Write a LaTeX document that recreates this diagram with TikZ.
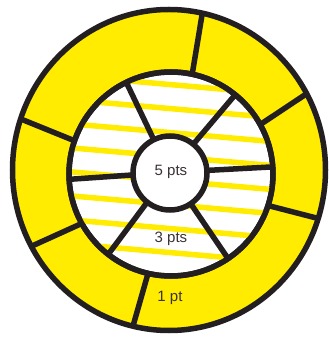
\documentclass[tikz,border=0pt]{standalone}
\usepackage{fontspec}
\setmainfont{Liberation Sans}
\usepackage{tikz}
\usetikzlibrary{shapes.geometric}
\definecolor{DartYellow}{HTML}{FFEC00}
\definecolor{DartInk}{HTML}{231F20}
\definecolor{DartText}{HTML}{3B3236}
\tikzset{
  ring/.style={draw=DartInk,line width=5.5pt,inner sep=0pt,outer sep=0pt},
  divider/.style={draw=DartInk,line width=5.5pt},
  stripe/.style={draw=DartYellow,line width=5.5pt},
  score/.style={font=\fontsize{15}{15}\selectfont,text=DartText,inner sep=0pt}
}
\begin{document}
\begin{tikzpicture}[x=1pt,y=1pt]
  \useasboundingbox (0,0) rectangle (329,340);
  \coordinate (oc) at (169,170);
  \coordinate (mc) at (171,166);
  \coordinate (ic) at (170,167);
  % outer yellow band
  \node[ring,ellipse,fill=DartYellow,minimum width=313pt,minimum height=321pt] (outer) at (oc) {};
  \node[ring,circle,fill=white,minimum size=204pt] (mid) at (mc) {};
  % striped middle band
  \begin{scope}
    \clip (mc) circle (100pt);
    \foreach \y in {50,74,...,310}
      \draw[stripe] (50,\y) -- (300,\y-22);
  \end{scope}
  \draw[divider] (mc) circle (102pt);
  \node[ring,circle,fill=white,minimum size=74pt] (inner) at (ic) {};
  % spokes of the middle band
  \foreach \a in {116,51,4,-56,232,183}
    \draw[divider] (inner.\a) -- (mid.\a);
  % dividers of the outer band
  \foreach \a in {78,29,-18.5,257,209.5,161}
    \draw[divider] (mid.\a) -- (outer.\a);
  \node[score] (five) at (171,168) {5 pts};
  \node[score] (three) at (171,101) {3 pts};
  \node[score] (one) at (170,42) {1 pt};
\end{tikzpicture}
\end{document}
